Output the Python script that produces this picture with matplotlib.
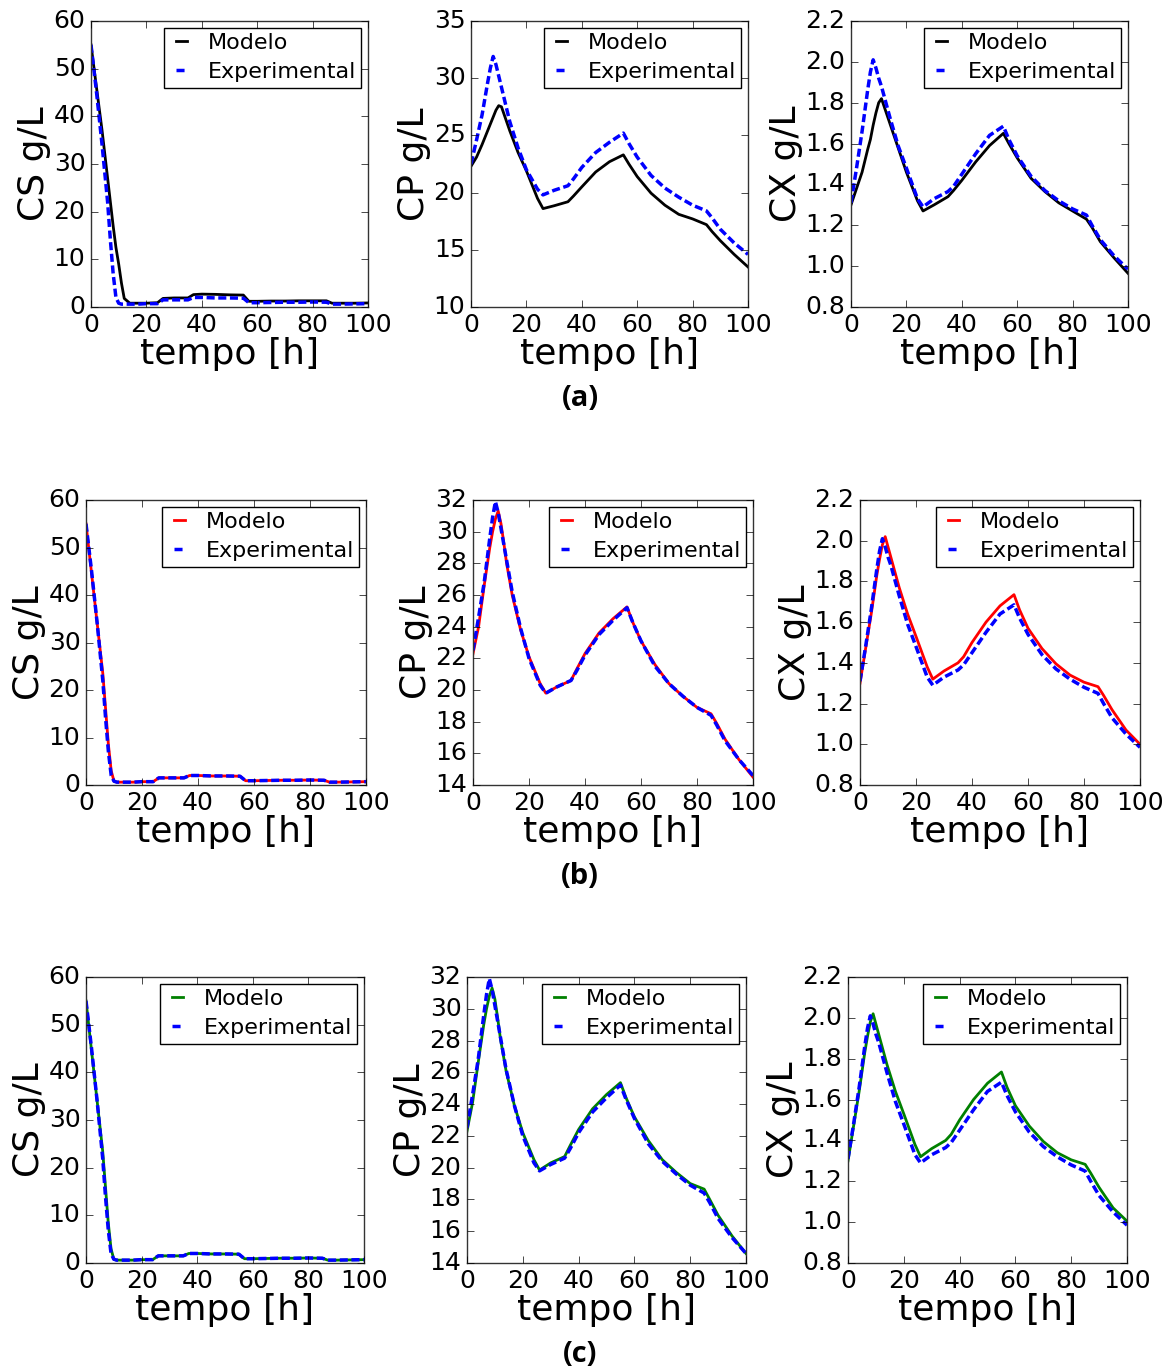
import matplotlib

matplotlib.use("Agg")
import matplotlib.pyplot as plt
from matplotlib.ticker import FormatStrFormatter

# time grid shared by every curve [h]
tempo = [0, 2, 4, 6, 7, 8, 9, 10, 11, 12, 14, 17, 20, 24, 26, 30, 35, 37, 40,
         45, 50, 55, 57, 60, 65, 70, 75, 80, 85, 87, 90, 95, 100]

# experimental data (same in every row)
cs_exp = [55, 45, 34, 22, 14, 7, 2, 0.8, 0.6, 0.6, 0.6, 0.6, 0.7, 0.7, 1.5, 1.5, 1.5, 2.0, 2.0,
          1.9, 1.9, 1.85, 0.9, 0.9, 0.95, 1.0, 1.0, 1.05, 1.0, 0.6, 0.6, 0.65, 0.7]
cp_exp = [22.5, 24.6, 26.8, 29.6, 30.9, 31.9, 31.2, 30.2, 29.2, 28.2, 26.2, 23.9, 22.0, 20.3, 19.8,
          20.2, 20.6, 21.2, 22.2, 23.5, 24.4, 25.2, 24.3, 23.1, 21.5, 20.4, 19.6, 18.9, 18.4,
          17.8, 16.8, 15.6, 14.6]
cx_exp = [1.31, 1.48, 1.66, 1.86, 1.95, 2.01, 1.97, 1.92, 1.88, 1.83, 1.73, 1.59, 1.48, 1.33, 1.29,
          1.33, 1.365, 1.39, 1.45, 1.55, 1.64, 1.685, 1.62, 1.54, 1.44, 1.37, 1.32, 1.28, 1.25,
          1.20, 1.13, 1.05, 0.985]

# (a) first model
cs_a = [55, 46, 37, 27, 22, 17, 12.5, 9, 5, 1.8, 0.8, 0.8, 0.8, 0.9, 1.8, 1.9, 1.9, 2.6, 2.7,
        2.65, 2.55, 2.5, 1.2, 1.2, 1.25, 1.25, 1.3, 1.3, 1.3, 0.8, 0.8, 0.8, 0.85]
cp_a = [22.3, 23.1, 24.2, 25.4, 26.0, 26.6, 27.2, 27.6, 27.5, 26.8, 25.4, 23.5, 21.9, 19.5, 18.6,
        18.85, 19.2, 19.7, 20.5, 21.8, 22.7, 23.3, 22.5, 21.4, 19.95, 18.9, 18.1, 17.7, 17.2,
        16.6, 15.8, 14.6, 13.5]
cx_a = [1.30, 1.38, 1.46, 1.57, 1.62, 1.69, 1.75, 1.80, 1.82, 1.78, 1.70, 1.58, 1.46, 1.32, 1.27,
        1.30, 1.34, 1.37, 1.42, 1.51, 1.59, 1.65, 1.60, 1.53, 1.43, 1.365, 1.31, 1.27, 1.23,
        1.19, 1.12, 1.04, 0.965]

# (b) second model
cs_b = [55, 44.5, 34, 23.5, 16, 8.5, 3, 0.8, 0.6, 0.6, 0.6, 0.6, 0.7, 0.7, 1.5, 1.5, 1.5, 2.0, 2.0,
        1.9, 1.9, 1.85, 0.9, 0.9, 0.95, 1.0, 1.0, 1.05, 1.0, 0.6, 0.6, 0.65, 0.7]
cp_b = [22.3, 24.0, 26.6, 29.0, 30.0, 30.8, 31.3, 30.5, 29.3, 28.0, 26.0, 23.8, 22.1, 20.4, 19.8,
        20.2, 20.6, 21.3, 22.3, 23.6, 24.5, 25.25, 24.3, 23.1, 21.6, 20.4, 19.6, 18.9, 18.5,
        17.9, 16.9, 15.6, 14.5]
cx_b = [1.30, 1.47, 1.64, 1.83, 1.91, 1.98, 2.02, 1.97, 1.92, 1.87, 1.77, 1.64, 1.53, 1.38, 1.32,
        1.36, 1.40, 1.43, 1.50, 1.60, 1.68, 1.735, 1.66, 1.57, 1.47, 1.395, 1.34, 1.305, 1.283,
        1.24, 1.17, 1.07, 1.0]

# (c) third model
cs_c = [55, 44.5, 34, 23.5, 16, 8.5, 3, 0.8, 0.6, 0.6, 0.6, 0.6, 0.7, 0.7, 1.5, 1.5, 1.5, 2.0, 2.0,
        1.9, 1.9, 1.85, 0.9, 0.9, 0.95, 1.0, 1.0, 1.05, 1.0, 0.6, 0.6, 0.65, 0.7]
cp_c = [22.3, 24.1, 26.6, 29.0, 30.0, 30.8, 31.3, 30.6, 29.4, 28.1, 26.1, 23.9, 22.2, 20.5, 19.85,
        20.3, 20.7, 21.4, 22.4, 23.7, 24.6, 25.35, 24.4, 23.2, 21.7, 20.5, 19.7, 19.0, 18.65,
        18.0, 17.0, 15.7, 14.6]
cx_c = [1.30, 1.47, 1.64, 1.83, 1.91, 1.98, 2.02, 1.97, 1.92, 1.87, 1.77, 1.64, 1.53, 1.38, 1.32,
        1.36, 1.40, 1.43, 1.50, 1.60, 1.68, 1.735, 1.66, 1.57, 1.47, 1.395, 1.34, 1.305, 1.283,
        1.24, 1.17, 1.07, 1.005]

row_labels = ["(a)", "(b)", "(c)"]
model_colors = ["k", "r", "g"]

W, H = 1175, 1371
# axes boxes in pixels: left, top, right, bottom
boxes = [
    [(91, 21, 368, 307), (471, 21, 748, 307), (851, 21, 1128, 307)],
    [(86, 500, 366, 785), (473, 500, 753, 785), (860, 500, 1140, 785)],
    [(86, 977, 364, 1263), (467, 977, 746, 1263), (848, 977, 1127, 1263)],
]
label_y = [398, 877, 1355]

plt.style.use("classic")
plt.rcParams["font.family"] = ["DejaVu Sans"]
plt.rcParams["figure.facecolor"] = "white"
plt.rcParams["savefig.facecolor"] = "white"
plt.rcParams["axes.edgecolor"] = "#333333"


def draw_panel(ax, model, exp, color, ylabel, ylim, ystep, fmt):
    ax.plot(tempo, model, color=color, lw=2.0, label="Modelo")
    ax.plot(tempo, exp, color="b", lw=2.5, ls="--", dashes=(5.8, 2.6), label="Experimental")
    ax.set_xlim(0, 100)
    ax.set_ylim(*ylim)
    ax.set_xticks(range(0, 101, 20))
    n = int(round((ylim[1] - ylim[0]) / ystep))
    ax.set_yticks([ylim[0] + i * ystep for i in range(n + 1)])
    ax.yaxis.set_major_formatter(FormatStrFormatter(fmt))
    ax.tick_params(labelsize=18, direction="in", top=True, right=True, length=5)
    ax.set_xlabel("tempo [h]", fontsize=26, labelpad=0)
    ax.set_ylabel(ylabel, fontsize=26, labelpad=2)
    ax.legend(loc="upper right", fontsize=16, handlelength=1.1, handletextpad=0.6,
              borderpad=0.25, labelspacing=0.4, borderaxespad=0.3, fancybox=False,
              numpoints=2, edgecolor="black")


fig = plt.figure(figsize=(W / 100, H / 100), dpi=100)

rows = [
    (cs_a, cp_a, cx_a, (10, 35), 5),
    (cs_b, cp_b, cx_b, (14, 32), 2),
    (cs_c, cp_c, cx_c, (14, 32), 2),
]
for r, (cs, cp, cx, cp_lim, cp_step) in enumerate(rows):
    color = model_colors[r]
    for c in range(3):
        l, t, rr, b = boxes[r][c]
        ax = fig.add_axes([l / W, 1 - b / H, (rr - l) / W, (b - t) / H])
        if c == 0:
            draw_panel(ax, cs, cs_exp, color, "CS g/L", (0, 60), 10, "%d")
        elif c == 1:
            draw_panel(ax, cp, cp_exp, color, "CP g/L", cp_lim, cp_step, "%d")
        else:
            draw_panel(ax, cx, cx_exp, color, "CX g/L", (0.8, 2.2), 0.2, "%.1f")
    fig.text(580 / W, 1 - label_y[r] / H, row_labels[r], ha="center", va="center",
             fontsize=21, fontweight="bold", family=["Open Sans", "DejaVu Sans"])

fig.savefig("out.png", dpi=100)
